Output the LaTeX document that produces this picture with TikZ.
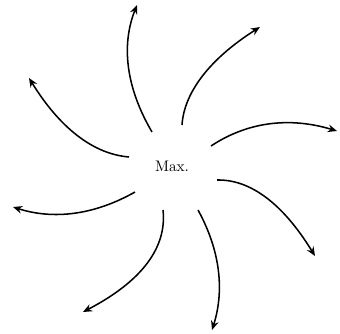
\documentclass[tikz,border=0pt]{standalone}
\usepackage{tikz}
\usetikzlibrary{arrows.meta}

\tikzset{
  spoke/.style={line width=1pt, -{Stealth[length=6pt, width=5pt, inset=2pt]}}
}

\begin{document}
\begin{tikzpicture}[x=0.023cm, y=0.023cm]
  \useasboundingbox (0,0) rectangle (340,333);
  % centre label
  \node (max) at (172,167) {Max.};

  % inner ends of the spokes
  \coordinate (s1) at (152,201);
  \coordinate (s2) at (182,208);
  \coordinate (s3) at (211,187);
  \coordinate (s4) at (217,153);
  \coordinate (s5) at (198,123);
  \coordinate (s6) at (163,123);
  \coordinate (s7) at (135,141);
  \coordinate (s8) at (129,176);

  % outer ends (arrow tips)
  \coordinate (e1) at (137,328);
  \coordinate (e2) at (260,306);
  \coordinate (e3) at (337,202);
  \coordinate (e4) at (315,77);
  \coordinate (e5) at (212,3);
  \coordinate (e6) at (83,21);
  \coordinate (e7) at (13,126);
  \coordinate (e8) at (29,255);

  % curved spokes
  \draw[spoke] (s1) .. controls (126,245.3) and (121,287.7) .. (e1);
  \draw[spoke] (s2) .. controls (184,239.3) and (208,273) .. (e2);
  \draw[spoke] (s3) .. controls (247.7,211.3) and (289.7,216.3) .. (e3);
  \draw[spoke] (s4) .. controls (249.7,153.7) and (282.3,130.3) .. (e4);
  \draw[spoke] (s5) .. controls (220,83) and (224.7,43) .. (e5);
  \draw[spoke] (s6) .. controls (167,86.3) and (143,52.3) .. (e6);
  \draw[spoke] (s7) .. controls (94.3,118) and (53.7,113) .. (e7);
  \draw[spoke] (s8) .. controls (93,179) and (59.7,205.3) .. (e8);
\end{tikzpicture}
\end{document}
